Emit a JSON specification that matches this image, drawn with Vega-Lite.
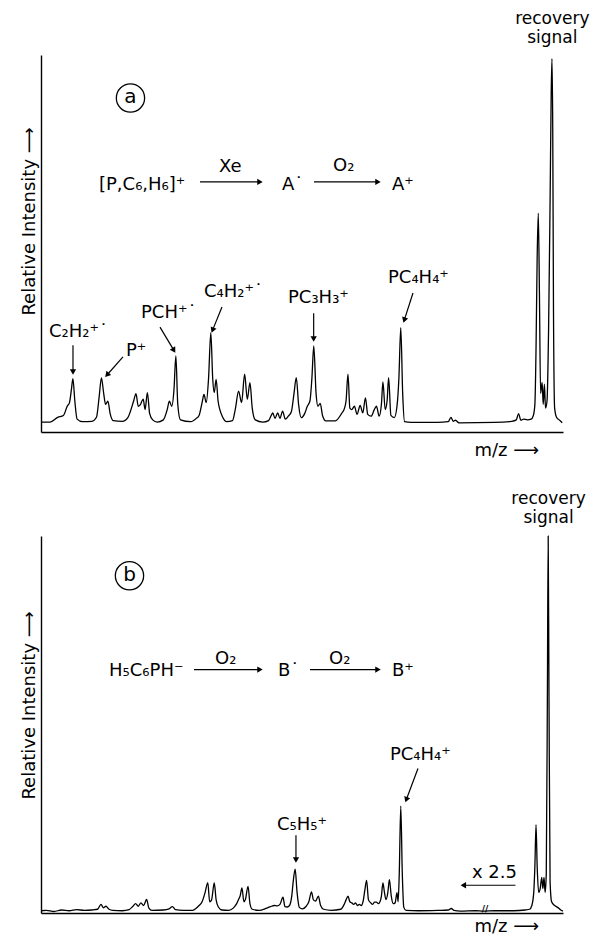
{
  "$schema": "https://vega.github.io/schema/vega-lite/v6.json",
  "background": "white",
  "padding": {"left": 19, "top": 10, "right": 0, "bottom": 0},
  "spacing": 31,
  "config": {
    "view": {"stroke": null},
    "font": "DejaVu Sans",
    "text": {"font": "DejaVu Sans", "fontSize": 18, "color": "#000"},
    "axis": {"domainColor": "#000", "domainWidth": 1.4, "ticks": false, "labels": false, "grid": false, "titleFont": "DejaVu Sans", "titleFontSize": 18, "titleFontWeight": "normal", "titleColor": "#000"},
    "axisY": {"titleAngle": 270, "titleAlign": "center", "titleBaseline": "alphabetic", "titleX": -7},
    "axisX": {"titleAlign": "left", "titleBaseline": "alphabetic", "titleX": 433}
  },
  "datasets": {
    "specA": [
      {"ch":106,"v":0.2},{"ch":130,"v":0.2},{"ch":150,"v":1.5},{"ch":165,"v":2.0},{"ch":175,"v":4.5},{"ch":181,"v":5.5},{"ch":186,"v":9},{"ch":190,"v":12},{"ch":195,"v":6},{"ch":201,"v":1},{"ch":215,"v":0.3},{"ch":240,"v":0.4},{"ch":252,"v":1.5},{"ch":259,"v":7},{"ch":265,"v":12.2},{"ch":271,"v":8},{"ch":276,"v":5},{"ch":282,"v":5.9},{"ch":288,"v":2.5},{"ch":296,"v":0.6},{"ch":320,"v":0.4},{"ch":335,"v":1.5},{"ch":341,"v":3},{"ch":350,"v":6},{"ch":356,"v":7.9},{"ch":362,"v":4.5},{"ch":368,"v":5},{"ch":372,"v":6},{"ch":375,"v":6.4},{"ch":380,"v":3.6},{"ch":386,"v":8.2},{"ch":392,"v":2.5},{"ch":400,"v":0.8},{"ch":412,"v":0.2},{"ch":428,"v":0.8},{"ch":438,"v":3.5},{"ch":444,"v":5.9},{"ch":450,"v":4.5},{"ch":456,"v":9},{"ch":461,"v":18.2},{"ch":466,"v":5},{"ch":473,"v":0.8},{"ch":500,"v":0.3},{"ch":515,"v":1.2},{"ch":522,"v":2},{"ch":530,"v":5.5},{"ch":535,"v":7.7},{"ch":541,"v":5.5},{"ch":547,"v":12},{"ch":553,"v":24.5},{"ch":558,"v":12},{"ch":562,"v":8.2},{"ch":567,"v":11.8},{"ch":572,"v":6},{"ch":577,"v":3.5},{"ch":583,"v":1.8},{"ch":595,"v":0.3},{"ch":610,"v":0.6},{"ch":618,"v":4},{"ch":626,"v":8.6},{"ch":634,"v":5.5},{"ch":642,"v":13.2},{"ch":649,"v":6.4},{"ch":656,"v":10.9},{"ch":662,"v":4},{"ch":670,"v":0.8},{"ch":690,"v":0.2},{"ch":705,"v":0.6},{"ch":712,"v":2},{"ch":716,"v":2.7},{"ch":722,"v":1.2},{"ch":729,"v":2.7},{"ch":735,"v":1.2},{"ch":742,"v":3.2},{"ch":749,"v":1.0},{"ch":757,"v":1.8},{"ch":765,"v":3},{"ch":772,"v":8},{"ch":778,"v":12.3},{"ch":784,"v":5},{"ch":791,"v":1.4},{"ch":800,"v":2.5},{"ch":807,"v":4.5},{"ch":814,"v":6},{"ch":819,"v":12},{"ch":824,"v":20.9},{"ch":830,"v":8},{"ch":835,"v":4.5},{"ch":841,"v":5.3},{"ch":847,"v":2},{"ch":856,"v":0.5},{"ch":880,"v":0.5},{"ch":897,"v":2.5},{"ch":905,"v":4},{"ch":909,"v":6},{"ch":914,"v":13.2},{"ch":919,"v":4},{"ch":924,"v":3.6},{"ch":931,"v":4.5},{"ch":938,"v":2.3},{"ch":946,"v":4.7},{"ch":953,"v":2.7},{"ch":960,"v":6.8},{"ch":966,"v":2.3},{"ch":975,"v":1.8},{"ch":983,"v":3.5},{"ch":989,"v":4.5},{"ch":996,"v":1.8},{"ch":1002,"v":5},{"ch":1006,"v":11.1},{"ch":1012,"v":3.6},{"ch":1017,"v":6},{"ch":1021,"v":12.3},{"ch":1027,"v":2},{"ch":1036,"v":1.4},{"ch":1043,"v":4.5},{"ch":1048,"v":12},{"ch":1053,"v":25.9},{"ch":1058,"v":8},{"ch":1063,"v":0.3},{"ch":1080,"v":0.1},{"ch":1150,"v":0.1},{"ch":1178,"v":0.3},{"ch":1185,"v":1.5},{"ch":1191,"v":0.4},{"ch":1197,"v":0.7},{"ch":1206,"v":0},{"ch":1300,"v":0.1},{"ch":1345,"v":0.4},{"ch":1357,"v":0.8},{"ch":1363,"v":2.5},{"ch":1369,"v":0.7},{"ch":1376,"v":1.0},{"ch":1386,"v":0.8},{"ch":1396,"v":1.0},{"ch":1402,"v":2},{"ch":1406,"v":5},{"ch":1409,"v":20},{"ch":1412,"v":45},{"ch":1415,"v":57},{"ch":1418,"v":35},{"ch":1421,"v":8},{"ch":1425,"v":11},{"ch":1428,"v":5},{"ch":1431,"v":10.5},{"ch":1434,"v":4},{"ch":1438,"v":6},{"ch":1442,"v":25},{"ch":1446,"v":60},{"ch":1449,"v":90},{"ch":1451,"v":99},{"ch":1453,"v":80},{"ch":1455,"v":30},{"ch":1458,"v":4},{"ch":1463,"v":1.5},{"ch":1470,"v":0.8},{"ch":1478,"v":0}
    ],
    "specB": [
      {"ch":106,"v":0.1},{"ch":120,"v":0.2},{"ch":140,"v":-0.1},{"ch":160,"v":0.3},{"ch":180,"v":0.1},{"ch":200,"v":0.4},{"ch":220,"v":0.2},{"ch":240,"v":0.3},{"ch":255,"v":0.5},{"ch":264,"v":1.8},{"ch":270,"v":0.9},{"ch":277,"v":1.3},{"ch":285,"v":0.5},{"ch":295,"v":0.2},{"ch":320,"v":0.1},{"ch":338,"v":0.4},{"ch":348,"v":1.3},{"ch":355,"v":2.0},{"ch":362,"v":1.3},{"ch":369,"v":2.2},{"ch":376,"v":1.5},{"ch":384,"v":3.1},{"ch":390,"v":0.8},{"ch":398,"v":0.2},{"ch":428,"v":0.3},{"ch":443,"v":0.6},{"ch":452,"v":1.2},{"ch":460,"v":0.4},{"ch":480,"v":0.2},{"ch":505,"v":0.2},{"ch":515,"v":0.8},{"ch":522,"v":1.5},{"ch":530,"v":2.5},{"ch":538,"v":5},{"ch":545,"v":7.6},{"ch":550,"v":2.5},{"ch":555,"v":3},{"ch":562,"v":7.5},{"ch":567,"v":3},{"ch":573,"v":1.1},{"ch":582,"v":0.3},{"ch":600,"v":0.2},{"ch":612,"v":0.8},{"ch":621,"v":2},{"ch":626,"v":3.1},{"ch":630,"v":4},{"ch":635,"v":6.2},{"ch":640,"v":2.5},{"ch":644,"v":3.1},{"ch":651,"v":6.6},{"ch":656,"v":2},{"ch":662,"v":0.5},{"ch":680,"v":0.2},{"ch":700,"v":0.8},{"ch":710,"v":1.2},{"ch":720,"v":1.5},{"ch":728,"v":1.4},{"ch":735,"v":1.8},{"ch":743,"v":3.7},{"ch":748,"v":1.2},{"ch":754,"v":1.1},{"ch":760,"v":1.5},{"ch":766,"v":4},{"ch":770,"v":8},{"ch":775,"v":11.2},{"ch":780,"v":5},{"ch":786,"v":1},{"ch":794,"v":0.6},{"ch":804,"v":1.3},{"ch":811,"v":2.5},{"ch":818,"v":5.1},{"ch":823,"v":3},{"ch":829,"v":2.7},{"ch":836,"v":4},{"ch":842,"v":1.5},{"ch":850,"v":0.5},{"ch":870,"v":0.2},{"ch":895,"v":0.5},{"ch":904,"v":1.8},{"ch":909,"v":3},{"ch":914,"v":4},{"ch":919,"v":2.5},{"ch":924,"v":2.2},{"ch":929,"v":1.8},{"ch":934,"v":2.2},{"ch":939,"v":1.5},{"ch":944,"v":1.8},{"ch":949,"v":1.5},{"ch":954,"v":2.7},{"ch":959,"v":6},{"ch":963,"v":8.2},{"ch":968,"v":3},{"ch":974,"v":2.2},{"ch":979,"v":1.8},{"ch":984,"v":2.4},{"ch":989,"v":2.4},{"ch":994,"v":2.0},{"ch":999,"v":2.7},{"ch":1002,"v":4},{"ch":1006,"v":7.5},{"ch":1010,"v":5},{"ch":1014,"v":3.1},{"ch":1019,"v":5},{"ch":1023,"v":8.4},{"ch":1028,"v":4},{"ch":1033,"v":2.0},{"ch":1038,"v":2.2},{"ch":1043,"v":4.9},{"ch":1046,"v":2.5},{"ch":1049,"v":10},{"ch":1053,"v":28},{"ch":1057,"v":10},{"ch":1061,"v":1},{"ch":1067,"v":0.2},{"ch":1100,"v":0.1},{"ch":1150,"v":0.2},{"ch":1178,"v":0.3},{"ch":1186,"v":0.7},{"ch":1193,"v":0.2},{"ch":1210,"v":0},{"ch":1250,"v":0.1},{"ch":1270,"v":0},{"ch":1300,"v":0.1},{"ch":1350,"v":0.1},{"ch":1380,"v":0.3},{"ch":1392,"v":0.5},{"ch":1398,"v":1.5},{"ch":1403,"v":5},{"ch":1406,"v":12},{"ch":1409,"v":23},{"ch":1412,"v":12},{"ch":1416,"v":5},{"ch":1420,"v":6},{"ch":1424,"v":9},{"ch":1427,"v":6},{"ch":1430,"v":9},{"ch":1433,"v":5},{"ch":1436,"v":10},{"ch":1439,"v":60},{"ch":1441,"v":100},{"ch":1443,"v":60},{"ch":1446,"v":8},{"ch":1450,"v":2.5},{"ch":1458,"v":1.5},{"ch":1466,"v":1.0},{"ch":1474,"v":0.3},{"ch":1480,"v":0}
    ],
    "labelsA": [
      {"label":"C₂H₂⁺˙","ch":127,"v":23.3},
      {"label":"P⁺","ch":329.7,"v":18.2},
      {"label":"PCH⁺˙","ch":369.2,"v":28.5},
      {"label":"C₄H₂⁺˙","ch":535,"v":34.2},
      {"label":"PC₃H₃⁺","ch":756.1,"v":32.6},
      {"label":"PC₄H₄⁺","ch":1019.3,"v":38.0},
      {"label":"[P,C₆,H₆]⁺","ch":258.6,"v":63.3},
      {"label":"Xe","ch":574.5,"v":68.2},
      {"label":"A˙","ch":740.3,"v":63.3},
      {"label":"O₂","ch":874.5,"v":68.5},
      {"label":"A⁺","ch":1029.8,"v":63.3}
    ],
    "notesA": [
      {"label":"recovery|signal","ch":1452,"v":108.4}
    ],
    "circA": [{"label":"a","ch":341.5,"v":88.3}],
    "arrowsA": [
      {"name":"C2H2","ch":190.2,"v":13.8,"ch2":190.2,"v2":21.1},
      {"name":"P","ch":279.7,"v":13.0,"ch2":321.8,"v2":17.9},
      {"name":"PCH","ch":455.8,"v":19.7,"ch2":419.2,"v2":26.0},
      {"name":"C4H2","ch":557.6,"v":25.2,"ch2":582.4,"v2":31.5},
      {"name":"PC3H3","ch":823.7,"v":22.8,"ch2":823.7,"v2":29.8},
      {"name":"PC4H4","ch":1062.2,"v":27.9,"ch2":1085.1,"v2":35.3},
      {"name":"Xe","ch":682.4,"v":65.5,"ch2":524.5,"v2":65.5},
      {"name":"O2","ch":993.0,"v":65.5,"ch2":824.5,"v2":65.5}
    ],
    "labelsB": [
      {"label":"H₅C₆PH⁻","ch":285.0,"v":62.8},
      {"label":"O₂","ch":564.0,"v":66.0},
      {"label":"B˙","ch":729.8,"v":62.8},
      {"label":"O₂","ch":864.0,"v":66.0},
      {"label":"B⁺","ch":1029.8,"v":62.8},
      {"label":"C₅H₅⁺","ch":727.1,"v":21.6},
      {"label":"PC₄H₄⁺","ch":1024.5,"v":40.2},
      {"label":"x 2.5","ch":1240.4,"v":8.8}
    ],
    "notesB": [
      {"label":"recovery|signal","ch":1442,"v":108.4}
    ],
    "circB": [{"label":"b","ch":338.9,"v":89.4}],
    "breakB": [{"label":"//","ch":1274.6,"v":0.6}],
    "arrowsB": [
      {"name":"O2a","ch":682.4,"v":64.4,"ch2":508.7,"v2":64.4},
      {"name":"O2b","ch":993.0,"v":64.4,"ch2":814.0,"v2":64.4},
      {"name":"C5H5","ch":777.1,"v":13.6,"ch2":777.1,"v2":20.2},
      {"name":"PC4H4","ch":1067.5,"v":29.7,"ch2":1098.2,"v2":38.0},
      {"name":"x25","ch":1217.7,"v":6.9,"ch2":1354.9,"v2":6.9}
    ]
  },
  "vconcat": [
    {
      "width": 522,
      "height": 377,
      "encoding": {
        "x": {"field": "ch", "type": "quantitative", "scale": {"domain": [106, 1480], "nice": false, "zero": false}, "axis": {"title": "m/z ⟶", "titleY": 23}},
        "y": {"field": "v", "type": "quantitative", "scale": {"domain": [-2.5, 100], "nice": false, "zero": false}, "axis": {"title": "Relative Intensity ⟶", "titleY": 166}}
      },
      "layer": [
        {"data": {"name": "specA"}, "mark": {"type": "line", "color": "#000", "strokeWidth": 1.3, "interpolate": "monotone"}},
        {"data": {"name": "arrowsA"}, "mark": {"type": "rule", "color": "#000", "strokeWidth": 1.2}, "encoding": {"x2": {"field": "ch2"}, "y2": {"field": "v2"}}},
        {"data": {"name": "arrowsA"}, "transform": [{"filter": "datum.name === 'C2H2' || datum.name === 'PC3H3'"}], "mark": {"type": "point", "shape": "triangle-down", "filled": true, "size": 40, "color": "#000", "opacity": 1}},
        {"data": {"name": "arrowsA"}, "transform": [{"filter": "datum.name === 'P'"}], "mark": {"type": "point", "shape": "triangle-down", "filled": true, "size": 40, "color": "#000", "opacity": 1, "angle": 42}},
        {"data": {"name": "arrowsA"}, "transform": [{"filter": "datum.name === 'PCH'"}], "mark": {"type": "point", "shape": "triangle-down", "filled": true, "size": 40, "color": "#000", "opacity": 1, "angle": 329}},
        {"data": {"name": "arrowsA"}, "transform": [{"filter": "datum.name === 'C4H2'"}], "mark": {"type": "point", "shape": "triangle-down", "filled": true, "size": 40, "color": "#000", "opacity": 1, "angle": 22}},
        {"data": {"name": "arrowsA"}, "transform": [{"filter": "datum.name === 'PC4H4'"}], "mark": {"type": "point", "shape": "triangle-down", "filled": true, "size": 40, "color": "#000", "opacity": 1, "angle": 18}},
        {"data": {"name": "arrowsA"}, "transform": [{"filter": "datum.name === 'Xe' || datum.name === 'O2'"}], "mark": {"type": "point", "shape": "triangle-right", "filled": true, "size": 40, "color": "#000", "opacity": 1}},
        {"data": {"name": "labelsA"}, "mark": {"type": "text", "align": "left", "baseline": "alphabetic", "fontSize": 18}, "encoding": {"text": {"field": "label"}}},
        {"data": {"name": "notesA"}, "mark": {"type": "text", "align": "center", "baseline": "alphabetic", "fontSize": 17, "lineBreak": "|", "lineHeight": 19}, "encoding": {"text": {"field": "label"}}},
        {"data": {"name": "circA"}, "mark": {"type": "point", "shape": "circle", "filled": false, "size": 800, "color": "#000", "strokeWidth": 1.3, "opacity": 1}},
        {"data": {"name": "circA"}, "mark": {"type": "text", "align": "center", "baseline": "middle", "fontSize": 20, "dy": -1}, "encoding": {"text": {"field": "label"}}}
      ]
    },
    {
      "width": 522,
      "height": 377,
      "encoding": {
        "x": {"field": "ch", "type": "quantitative", "scale": {"domain": [106, 1480], "nice": false, "zero": false}, "axis": {"title": "m/z ⟶", "titleY": 18}},
        "y": {"field": "v", "type": "quantitative", "scale": {"domain": [-0.5, 100], "nice": false, "zero": false}, "axis": {"title": "Relative Intensity ⟶", "titleY": 169}}
      },
      "layer": [
        {"data": {"name": "specB"}, "mark": {"type": "line", "color": "#000", "strokeWidth": 1.3, "interpolate": "monotone"}},
        {"data": {"name": "arrowsB"}, "mark": {"type": "rule", "color": "#000", "strokeWidth": 1.2}, "encoding": {"x2": {"field": "ch2"}, "y2": {"field": "v2"}}},
        {"data": {"name": "arrowsB"}, "transform": [{"filter": "datum.name === 'C5H5'"}], "mark": {"type": "point", "shape": "triangle-down", "filled": true, "size": 40, "color": "#000", "opacity": 1}},
        {"data": {"name": "arrowsB"}, "transform": [{"filter": "datum.name === 'PC4H4'"}], "mark": {"type": "point", "shape": "triangle-down", "filled": true, "size": 40, "color": "#000", "opacity": 1, "angle": 20}},
        {"data": {"name": "arrowsB"}, "transform": [{"filter": "datum.name === 'O2a' || datum.name === 'O2b'"}], "mark": {"type": "point", "shape": "triangle-right", "filled": true, "size": 40, "color": "#000", "opacity": 1}},
        {"data": {"name": "arrowsB"}, "transform": [{"filter": "datum.name === 'x25'"}], "mark": {"type": "point", "shape": "triangle-left", "filled": true, "size": 40, "color": "#000", "opacity": 1}},
        {"data": {"name": "labelsB"}, "mark": {"type": "text", "align": "left", "baseline": "alphabetic", "fontSize": 18}, "encoding": {"text": {"field": "label"}}},
        {"data": {"name": "notesB"}, "mark": {"type": "text", "align": "center", "baseline": "alphabetic", "fontSize": 17, "lineBreak": "|", "lineHeight": 19}, "encoding": {"text": {"field": "label"}}},
        {"data": {"name": "breakB"}, "mark": {"type": "text", "align": "center", "baseline": "middle", "fontSize": 9, "fontWeight": "bold"}, "encoding": {"text": {"field": "label"}}},
        {"data": {"name": "circB"}, "mark": {"type": "point", "shape": "circle", "filled": false, "size": 800, "color": "#000", "strokeWidth": 1.3, "opacity": 1}},
        {"data": {"name": "circB"}, "mark": {"type": "text", "align": "center", "baseline": "middle", "fontSize": 20, "dy": -1}, "encoding": {"text": {"field": "label"}}}
      ]
    }
  ]
}
